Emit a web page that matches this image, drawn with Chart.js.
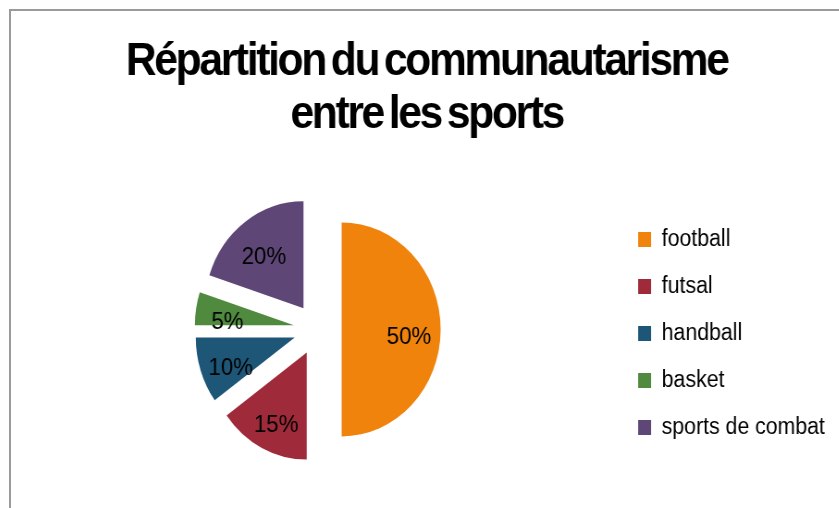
<!DOCTYPE html>
<html lang="fr">
<head>
<meta charset="utf-8">
<title>Répartition du communautarisme entre les sports</title>
<script src="https://cdn.jsdelivr.net/npm/chart.js@4/dist/chart.umd.min.js"></script>
<style>
    html, body { margin: 0; padding: 0; background: #fff; overflow: hidden; }
    body { width: 839px; height: 508px; position: relative; }
    /* cadre gris coupé à droite et en bas, comme la capture */
    #cadre {
        position: absolute; left: 9px; top: 9px; width: 900px; height: 540px;
        border-top: 2px solid #9a9a9a; border-left: 2px solid #9a9a9a;
    }
    /* la capture est légèrement compressée en largeur */
    #zone {
        position: absolute; left: 10px; top: 10px; width: 917px; height: 500px;
        transform: scaleX(0.925); transform-origin: 0 0;
    }
</style>
</head>
<body>
<div id="cadre"></div>
<div id="zone"><canvas id="graphique" width="917" height="500"></canvas></div>
<script>
// Données du graphique
const titre = ['Répartition du communautarisme', 'entre les sports'];
const sports = ['football', 'futsal', 'handball', 'basket', 'sports de combat'];
const pourcentages = [50, 15, 10, 5, 20];
const couleurs = ['#F0830C', '#9E2A3A', '#1E5677', '#4F8A3F', '#5E4776'];

// Réglages d'affichage
const RAYON = 107;
const ECART = 26;          // éclatement des parts
const POSITION_ETIQUETTE = 0.68;

// Chart.js agrandit une part décalée : on remet le rayon et l'angle d'origine
const eclatement = {
    id: 'eclatement',
    afterDatasetsUpdate(chart) {
        chart.getDatasetMeta(0).data.forEach(arc => {
            const fix = 1 - Math.sin(Math.min(Math.PI, arc.circumference));
            const ro = ECART * fix;
            const r = arc.outerRadius;
            arc.outerRadius = r - ro;
            const corr = ro / (2 * Math.PI * r);
            arc.startAngle -= corr;
            arc.endAngle += corr;
        });
    }
};

// Titre très serré, comme dans Excel
const titreSerre = {
    id: 'titreSerre',
    afterInit(chart) {
        const bloc = chart.titleBlock;
        if (!bloc) return;
        const dessin = bloc.draw.bind(bloc);
        bloc.draw = function(zone) {
            const c = this.ctx;
            c.save();
            c.letterSpacing = '-2.5px';
            c.wordSpacing = '-4px';
            dessin(zone);
            c.restore();
        };
    }
};

// Étiquettes en pourcentage dans les parts
const etiquettes = {
    id: 'etiquettes',
    afterDatasetsDraw(chart) {
        const ctx = chart.ctx;
        ctx.save();
        ctx.font = "24px 'Liberation Sans', Arial, sans-serif";
        ctx.fillStyle = '#000';
        ctx.textAlign = 'center';
        ctx.textBaseline = 'middle';
        chart.getDatasetMeta(0).data.forEach((arc, i) => {
            const mi = (arc.startAngle + arc.endAngle) / 2;
            const d = ECART + POSITION_ETIQUETTE * RAYON;
            ctx.fillText(pourcentages[i] + '%', arc.x + Math.cos(mi) * d, arc.y + Math.sin(mi) * d + 8);
        });
        ctx.restore();
    }
};

Chart.defaults.font.family = "'Liberation Sans', Arial, sans-serif";
Chart.defaults.color = '#000';

new Chart(document.getElementById('graphique'), {
    type: 'pie',
    data: {
        labels: sports,
        datasets: [{
            data: pourcentages,
            backgroundColor: couleurs,
            borderWidth: 0,
            offset: 4 * ECART,
            hoverOffset: 4 * ECART,
            radius: RAYON
        }]
    },
    options: {
        responsive: false,
        animation: false,
        layout: {
            padding: { left: 10, right: 26, top: 0, bottom: 11 }
        },
        plugins: {
            title: {
                display: true,
                text: titre,
                color: '#000',
                font: { size: 46, weight: 'bold', lineHeight: 1.15 },
                padding: { top: 26, bottom: 18 }
            },
            legend: {
                position: 'right',
                align: 'center',
                fullSize: false,
                // titre vide : descend un peu la liste
                title: { display: true, text: ' ', padding: 0, font: { size: 7 } },
                labels: {
                    boxWidth: 14,
                    boxHeight: 15,
                    padding: 24,
                    color: '#000',
                    font: { size: 23 }
                }
            },
            tooltip: { enabled: false }
        }
    },
    plugins: [eclatement, titreSerre, etiquettes]
});
</script>
</body>
</html>
